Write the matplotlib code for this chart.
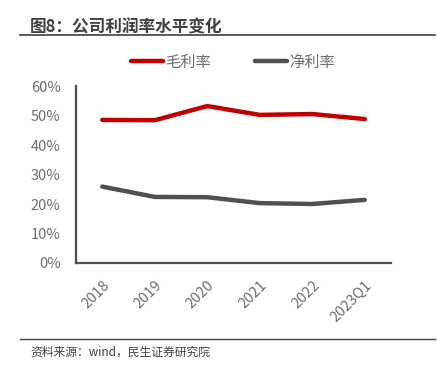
import numpy as np
import matplotlib.pyplot as plt
from matplotlib.lines import Line2D

plt.rcParams['font.family'] = ['Noto Sans CJK SC', 'DejaVu Sans']

# 数据
categories = ['2018', '2019', '2020', '2021', '2022', '2023Q1']
gross_margin = [48.5, 48.4, 53.2, 50.2, 50.5, 48.8]
net_margin = [25.9, 22.4, 22.3, 20.3, 20.0, 21.4]

fig = plt.figure(figsize=(4.37, 3.79), dpi=100)
ax = fig.add_axes([76 / 437, 1 - 263 / 379, (391 - 76) / 437, (263 - 86) / 379])

x = np.arange(len(categories))
ax.plot(x, gross_margin, color='#C00000', lw=3.2, solid_capstyle='round', label='毛利率')
ax.plot(x, net_margin, color='#505050', lw=3.2, solid_capstyle='round', label='净利率')

tick_color = '#6E6E6E'
ax.set_xlim(-0.5, len(categories) - 0.5)
ax.set_ylim(0, 60)
ax.set_yticks(np.arange(0, 61, 10))
ax.set_yticklabels([f'{v}%' for v in range(0, 61, 10)], color=tick_color, fontsize=10.5)
ax.set_xticks(x)
ax.set_xticklabels(categories, rotation=45, ha='right', rotation_mode='anchor',
                   color=tick_color, fontsize=10.5)
ax.tick_params(axis='y', length=0, pad=11)
ax.tick_params(axis='x', length=0, pad=11)
for s in ['top', 'right']:
    ax.spines[s].set_visible(False)
for s in ['left', 'bottom']:
    ax.spines[s].set_color('#505050')
    ax.spines[s].set_linewidth(1.6)

# 图例
handles = [Line2D([], [], color='#C00000', lw=3.2, solid_capstyle='round'),
           Line2D([], [], color='#505050', lw=3.2, solid_capstyle='round')]
fig.legend(handles, ['毛利率', '净利率'], loc='center', bbox_to_anchor=(233 / 437, 1 - 62 / 379),
           ncol=2, frameon=False, fontsize=11, handlelength=2.1, handletextpad=0.15,
           columnspacing=2.9, labelcolor=tick_color)

# 标题和来源
fig.text(30 / 437, 1 - 27 / 379, '图8：公司利润率水平变化', fontsize=12, fontweight='bold',
         color='#404040', va='center', ha='left')
fig.add_artist(Line2D([20 / 437, 435 / 437], [1 - 35 / 379] * 2, color='#404040', lw=1.2))
fig.add_artist(Line2D([20 / 437, 435 / 437], [1 - 339 / 379] * 2, color='#404040', lw=1.0))
fig.text(30 / 437, 1 - 352 / 379, '资料来源：wind，民生证券研究院', fontsize=8.5,
         color='#404040', va='center', ha='left')

fig.savefig('out.png', dpi=100)
